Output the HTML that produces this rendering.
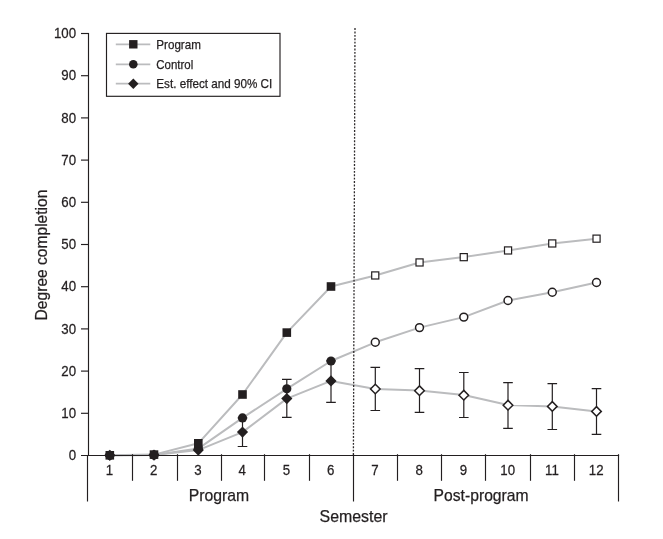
<!DOCTYPE html><html><head><meta charset="utf-8"><title>Degree completion by semester</title>
<style>html,body{margin:0;padding:0;background:#fff}svg{display:block}text{font-family:"Liberation Sans",Arial,Helvetica,sans-serif;fill:#231f20;stroke:#231f20;stroke-width:.25px}</style></head><body>
<svg width="663" height="539" viewBox="0 0 663 539">
<rect width="663" height="539" fill="#fff"/>
<polyline points="109.8,455.3 154.0,454.6 198.3,443.3 242.5,394.5 286.8,332.6 331.0,286.5 375.3,275.5 419.5,262.5 463.8,257.1 508.0,250.5 552.3,243.5 596.5,238.7" fill="none" stroke="#bbbcbe" stroke-width="2.0" stroke-linejoin="round"/>
<polyline points="109.8,455.3 154.0,455.0 198.3,448.6 242.5,417.9 286.8,388.8 331.0,361.0 375.3,342.3 419.5,327.6 463.8,317.1 508.0,300.5 552.3,292.3 596.5,282.5" fill="none" stroke="#bbbcbe" stroke-width="2.0" stroke-linejoin="round"/>
<polyline points="109.8,455.3 154.0,455.1 198.3,450.1 242.5,432.1 286.8,398.6 331.0,380.9 375.3,389.0 419.5,390.6 463.8,395.1 508.0,405.1 552.3,406.4 596.5,411.4" fill="none" stroke="#bbbcbe" stroke-width="2.0" stroke-linejoin="round"/>
<line x1="355" y1="28.1" x2="353.4" y2="455" stroke="#2e2a2b" stroke-width="1.3" stroke-dasharray="1.9 1.5"/>
<g stroke="#231f20" stroke-width="1.15" fill="none">
<line x1="88.5" y1="33" x2="88.5" y2="455.5"/>
<line x1="87.5" y1="455" x2="87.5" y2="501.5"/>
<line x1="81" y1="455.5" x2="619.1" y2="455.5"/>
<line x1="81" y1="413.3" x2="89" y2="413.3"/>
<line x1="81" y1="371.1" x2="89" y2="371.1"/>
<line x1="81" y1="328.9" x2="89" y2="328.9"/>
<line x1="81" y1="286.7" x2="89" y2="286.7"/>
<line x1="81" y1="244.5" x2="89" y2="244.5"/>
<line x1="81" y1="202.3" x2="89" y2="202.3"/>
<line x1="81" y1="160.1" x2="89" y2="160.1"/>
<line x1="81" y1="117.9" x2="89" y2="117.9"/>
<line x1="81" y1="75.7" x2="89" y2="75.7"/>
<line x1="81" y1="33.5" x2="89" y2="33.5"/>
<line x1="132.50" y1="454.2" x2="132.50" y2="480.8"/>
<line x1="177.50" y1="454.2" x2="177.50" y2="480.8"/>
<line x1="221.50" y1="454.2" x2="221.50" y2="480.8"/>
<line x1="264.50" y1="454.2" x2="264.50" y2="480.8"/>
<line x1="309.50" y1="454.2" x2="309.50" y2="480.8"/>
<line x1="353.50" y1="454.2" x2="353.50" y2="501.5"/>
<line x1="397.50" y1="454.2" x2="397.50" y2="480.8"/>
<line x1="441.50" y1="454.2" x2="441.50" y2="480.8"/>
<line x1="485.50" y1="454.2" x2="485.50" y2="480.8"/>
<line x1="530.50" y1="454.2" x2="530.50" y2="480.8"/>
<line x1="574.50" y1="454.2" x2="574.50" y2="480.8"/>
<line x1="618.50" y1="454.2" x2="618.50" y2="501.5"/>
</g>
<g stroke="#231f20" stroke-width="1.2" fill="none">
<path d="M242.5 417.8V446.5M237.7 417.8h9.6M237.7 446.5h9.6"/>
<path d="M286.8 379.4V417.4M282.0 379.4h9.6M282.0 417.4h9.6"/>
<path d="M331.0 360.9V402.3M326.2 360.9h9.6M326.2 402.3h9.6"/>
<path d="M375.3 367.4V410.5M370.5 367.4h9.6M370.5 410.5h9.6"/>
<path d="M419.5 368.6V412.3M414.7 368.6h9.6M414.7 412.3h9.6"/>
<path d="M463.8 372.5V417.5M459.0 372.5h9.6M459.0 417.5h9.6"/>
<path d="M508.0 382.7V428.4M503.2 382.7h9.6M503.2 428.4h9.6"/>
<path d="M552.3 383.6V429.5M547.5 383.6h9.6M547.5 429.5h9.6"/>
<path d="M596.5 388.6V434.3M591.7 388.6h9.6M591.7 434.3h9.6"/>
</g>
<path d="M109.8 449.7l5.6 5.6l-5.6 5.6l-5.6 -5.6z" fill="#231f20"/>
<path d="M154.0 449.5l5.6 5.6l-5.6 5.6l-5.6 -5.6z" fill="#231f20"/>
<path d="M198.3 444.5l5.6 5.6l-5.6 5.6l-5.6 -5.6z" fill="#231f20"/>
<path d="M242.5 426.5l5.6 5.6l-5.6 5.6l-5.6 -5.6z" fill="#231f20"/>
<path d="M286.8 393.0l5.6 5.6l-5.6 5.6l-5.6 -5.6z" fill="#231f20"/>
<path d="M331.0 375.3l5.6 5.6l-5.6 5.6l-5.6 -5.6z" fill="#231f20"/>
<path d="M375.3 384.2l4.8 4.8l-4.8 4.8l-4.8 -4.8z" fill="#fff" stroke="#231f20" stroke-width="1.5"/>
<path d="M419.5 385.9l4.8 4.8l-4.8 4.8l-4.8 -4.8z" fill="#fff" stroke="#231f20" stroke-width="1.5"/>
<path d="M463.8 390.4l4.8 4.8l-4.8 4.8l-4.8 -4.8z" fill="#fff" stroke="#231f20" stroke-width="1.5"/>
<path d="M508.0 400.4l4.8 4.8l-4.8 4.8l-4.8 -4.8z" fill="#fff" stroke="#231f20" stroke-width="1.5"/>
<path d="M552.3 401.6l4.8 4.8l-4.8 4.8l-4.8 -4.8z" fill="#fff" stroke="#231f20" stroke-width="1.5"/>
<path d="M596.5 406.6l4.8 4.8l-4.8 4.8l-4.8 -4.8z" fill="#fff" stroke="#231f20" stroke-width="1.5"/>
<circle cx="109.8" cy="455.3" r="4.6" fill="#231f20"/>
<circle cx="154.0" cy="455.0" r="4.6" fill="#231f20"/>
<circle cx="198.3" cy="448.6" r="4.6" fill="#231f20"/>
<circle cx="242.5" cy="417.9" r="4.6" fill="#231f20"/>
<circle cx="286.8" cy="388.8" r="4.6" fill="#231f20"/>
<circle cx="331.0" cy="361.0" r="4.6" fill="#231f20"/>
<circle cx="375.3" cy="342.3" r="3.95" fill="#fff" stroke="#231f20" stroke-width="1.5"/>
<circle cx="419.5" cy="327.6" r="3.95" fill="#fff" stroke="#231f20" stroke-width="1.5"/>
<circle cx="463.8" cy="317.1" r="3.95" fill="#fff" stroke="#231f20" stroke-width="1.5"/>
<circle cx="508.0" cy="300.5" r="3.95" fill="#fff" stroke="#231f20" stroke-width="1.5"/>
<circle cx="552.3" cy="292.3" r="3.95" fill="#fff" stroke="#231f20" stroke-width="1.5"/>
<circle cx="596.5" cy="282.5" r="3.95" fill="#fff" stroke="#231f20" stroke-width="1.5"/>
<rect x="105.5" y="451.0" width="8.6" height="8.6" fill="#231f20"/>
<rect x="149.7" y="450.3" width="8.6" height="8.6" fill="#231f20"/>
<rect x="194.0" y="439.0" width="8.6" height="8.6" fill="#231f20"/>
<rect x="238.2" y="390.2" width="8.6" height="8.6" fill="#231f20"/>
<rect x="282.5" y="328.3" width="8.6" height="8.6" fill="#231f20"/>
<rect x="326.7" y="282.2" width="8.6" height="8.6" fill="#231f20"/>
<rect x="371.7" y="271.9" width="7.1" height="7.1" fill="#fff" stroke="#231f20" stroke-width="1.2"/>
<rect x="416.0" y="258.9" width="7.1" height="7.1" fill="#fff" stroke="#231f20" stroke-width="1.2"/>
<rect x="460.2" y="253.6" width="7.1" height="7.1" fill="#fff" stroke="#231f20" stroke-width="1.2"/>
<rect x="504.5" y="246.9" width="7.1" height="7.1" fill="#fff" stroke="#231f20" stroke-width="1.2"/>
<rect x="548.7" y="239.9" width="7.1" height="7.1" fill="#fff" stroke="#231f20" stroke-width="1.2"/>
<rect x="593.0" y="235.1" width="7.1" height="7.1" fill="#fff" stroke="#231f20" stroke-width="1.2"/>
<text transform="translate(76.1 460.1) scale(0.95 1)" font-size="14" text-anchor="end">0</text>
<text transform="translate(76.1 417.9) scale(0.95 1)" font-size="14" text-anchor="end">10</text>
<text transform="translate(76.1 375.7) scale(0.95 1)" font-size="14" text-anchor="end">20</text>
<text transform="translate(76.1 333.5) scale(0.95 1)" font-size="14" text-anchor="end">30</text>
<text transform="translate(76.1 291.3) scale(0.95 1)" font-size="14" text-anchor="end">40</text>
<text transform="translate(76.1 249.1) scale(0.95 1)" font-size="14" text-anchor="end">50</text>
<text transform="translate(76.1 206.9) scale(0.95 1)" font-size="14" text-anchor="end">60</text>
<text transform="translate(76.1 164.7) scale(0.95 1)" font-size="14" text-anchor="end">70</text>
<text transform="translate(76.1 122.5) scale(0.95 1)" font-size="14" text-anchor="end">80</text>
<text transform="translate(76.1 80.3) scale(0.95 1)" font-size="14" text-anchor="end">90</text>
<text transform="translate(76.1 38.1) scale(0.95 1)" font-size="14" text-anchor="end">100</text>
<text transform="translate(109.5 474.9) scale(0.95 1)" font-size="14" text-anchor="middle">1</text>
<text transform="translate(153.7 474.9) scale(0.95 1)" font-size="14" text-anchor="middle">2</text>
<text transform="translate(198.0 474.9) scale(0.95 1)" font-size="14" text-anchor="middle">3</text>
<text transform="translate(242.2 474.9) scale(0.95 1)" font-size="14" text-anchor="middle">4</text>
<text transform="translate(286.5 474.9) scale(0.95 1)" font-size="14" text-anchor="middle">5</text>
<text transform="translate(330.7 474.9) scale(0.95 1)" font-size="14" text-anchor="middle">6</text>
<text transform="translate(375.0 474.9) scale(0.95 1)" font-size="14" text-anchor="middle">7</text>
<text transform="translate(419.2 474.9) scale(0.95 1)" font-size="14" text-anchor="middle">8</text>
<text transform="translate(463.5 474.9) scale(0.95 1)" font-size="14" text-anchor="middle">9</text>
<text transform="translate(507.7 474.9) scale(0.95 1)" font-size="14" text-anchor="middle">10</text>
<text transform="translate(552.0 474.9) scale(0.95 1)" font-size="14" text-anchor="middle">11</text>
<text transform="translate(596.2 474.9) scale(0.95 1)" font-size="14" text-anchor="middle">12</text>
<text x="188.8" y="500.8" font-size="16.4" textLength="60.4" lengthAdjust="spacingAndGlyphs">Program</text>
<text x="433.6" y="500.9" font-size="16.4" textLength="95" lengthAdjust="spacingAndGlyphs">Post-program</text>
<text x="319.6" y="522.2" font-size="16.4" textLength="68" lengthAdjust="spacingAndGlyphs">Semester</text>
<text transform="translate(46.8 320.4) rotate(-90)" font-size="16.4" textLength="130.8" lengthAdjust="spacingAndGlyphs">Degree completion</text>
<rect x="106.5" y="33.4" width="173.5" height="62.9" fill="#fff" stroke="#231f20" stroke-width="1.15"/>
<line x1="115.8" y1="44.3" x2="150.3" y2="44.3" stroke="#bbbcbe" stroke-width="1.8"/>
<rect x="129.1" y="40.1" width="8.4" height="8.4" fill="#231f20"/>
<text x="156.3" y="48.7" font-size="12.6" textLength="44.6" lengthAdjust="spacingAndGlyphs">Program</text>
<line x1="115.8" y1="64.3" x2="150.3" y2="64.3" stroke="#bbbcbe" stroke-width="1.8"/>
<circle cx="133.3" cy="64.3" r="4.3" fill="#231f20"/>
<text x="156.3" y="68.7" font-size="12.6" textLength="37.0" lengthAdjust="spacingAndGlyphs">Control</text>
<line x1="115.8" y1="83.7" x2="150.3" y2="83.7" stroke="#bbbcbe" stroke-width="1.8"/>
<path d="M133.3 78.5l5.2 5.2l-5.2 5.2l-5.2 -5.2z" fill="#231f20"/>
<text x="156.3" y="88.0" font-size="12.6" textLength="116.0" lengthAdjust="spacingAndGlyphs">Est. effect and 90% CI</text>
</svg></body></html>
